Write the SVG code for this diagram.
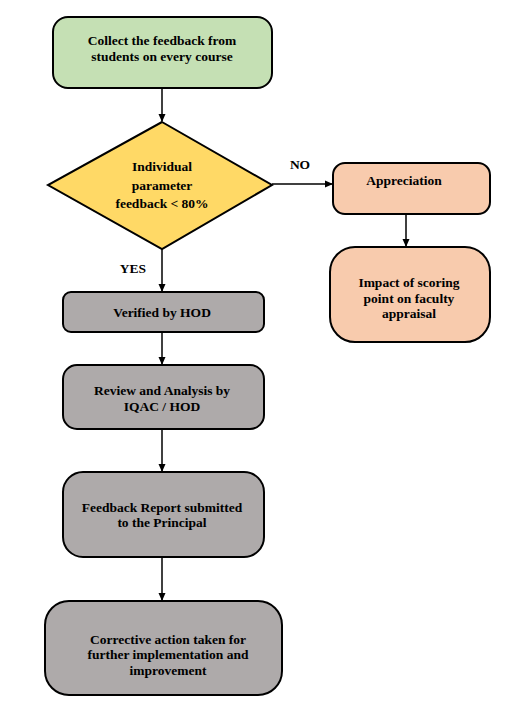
<svg xmlns="http://www.w3.org/2000/svg" width="507" height="709" viewBox="0 0 507 709">
<defs>
<style>
.n{stroke:#000;stroke-width:2}
.t{font-family:'Liberation Serif','Times New Roman','DejaVu Serif',serif;font-weight:bold;font-size:13.5px;text-anchor:middle;fill:#000}
.c{stroke:#000;stroke-width:1.5;fill:none;marker-end:url(#a)}
</style>
<marker id="a" markerWidth="8" markerHeight="8" refX="7" refY="4" orient="auto" markerUnits="userSpaceOnUse">
<path d="M0,0.5 L8,4 L0,7.5 Z" fill="#000"/>
</marker>
</defs>
<rect width="507" height="709" fill="#fff"/>
<g id="connectors">
<line class="c" x1="162" y1="88" x2="162" y2="121"/>
<line class="c" x1="162" y1="249" x2="162" y2="291"/>
<line class="c" x1="162" y1="332" x2="162" y2="364"/>
<line class="c" x1="162" y1="429" x2="162" y2="471"/>
<line class="c" x1="162" y1="557" x2="162" y2="600"/>
<line class="c" x1="272" y1="184" x2="332" y2="184"/>
<line class="c" x1="406" y1="214" x2="406" y2="246"/>
<text class="t" x="133" y="273" font-family="Liberation Serif, serif">YES</text>
<text class="t" x="300" y="169" font-family="Liberation Serif, serif">NO</text>
</g>
<g id="collect">
<rect class="n" x="53" y="17" width="219" height="71" rx="15" fill="#c5e0b4"/>
<text class="t" x="162" y="45">Collect the feedback from</text>
<text class="t" x="162" y="61">students on every course</text>
</g>
<g id="decision">
<polygon class="n" points="162,122 272,185 162,249 48,185" fill="#ffd966"/>
<text class="t" x="162" y="171">Individual</text>
<text class="t" x="162" y="190">parameter</text>
<text class="t" x="162" y="208">feedback &lt; 80%</text>
</g>
<g id="verified">
<rect class="n" x="63" y="292" width="201" height="40" rx="8" fill="#aeaaaa"/>
<text class="t" x="162" y="317">Verified by HOD</text>
</g>
<g id="review">
<rect class="n" x="63" y="365" width="201" height="64" rx="14" fill="#aeaaaa"/>
<text class="t" x="162" y="395">Review and Analysis by</text>
<text class="t" x="162" y="411">IQAC / HOD</text>
</g>
<g id="report">
<rect class="n" x="63" y="472" width="201" height="85" rx="20" fill="#aeaaaa"/>
<text class="t" x="162" y="512">Feedback Report submitted</text>
<text class="t" x="162" y="527">to the Principal</text>
</g>
<g id="corrective">
<rect class="n" x="45" y="601" width="237" height="94" rx="24" fill="#aeaaaa"/>
<text class="t" x="168" y="644">Corrective action taken for</text>
<text class="t" x="168" y="659">further implementation and</text>
<text class="t" x="168" y="675">improvement</text>
</g>
<g id="appreciation">
<rect class="n" x="333" y="163" width="157" height="51" rx="12" fill="#f8cbad"/>
<text class="t" x="404" y="185">Appreciation</text>
</g>
<g id="impact">
<rect class="n" x="330" y="247" width="160" height="95" rx="25" fill="#f8cbad"/>
<text class="t" x="409" y="287">Impact of scoring</text>
<text class="t" x="409" y="303">point on faculty</text>
<text class="t" x="409" y="318">appraisal</text>
</g>
</svg>
